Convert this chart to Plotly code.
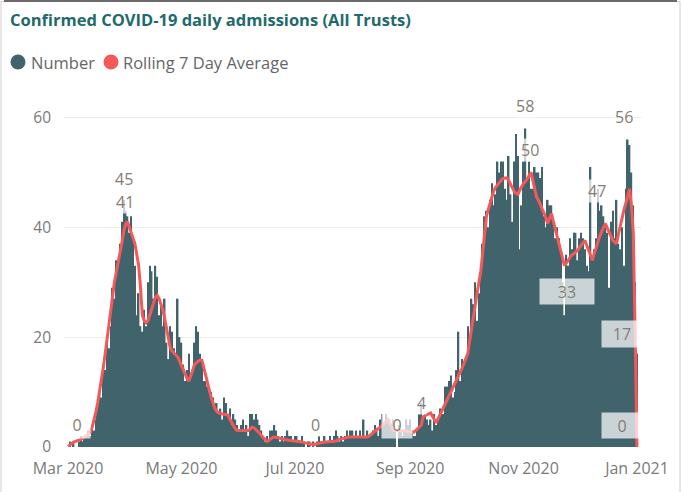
import pandas as pd
import plotly.graph_objects as go

# ---- data -------------------------------------------------------------
start_date = "2020-03-01"

# Confirmed admissions per day (Mar 2020 .. 1 Jan 2021)
number_mar = [0, 1, 0, 1, 0, 0, 1, 2, 1, 2, 2, 3, 2, 4, 3, 5, 8, 10, 9, 15,
              14, 20, 18, 22, 29, 27, 34, 33, 37, 41, 45]
number_apr = [43, 42, 39, 42, 38, 33, 24, 28, 22, 21, 25, 22, 30, 33, 32, 27,
              33, 31, 24, 26, 22, 27, 19, 16, 22, 21, 18, 17, 27, 20]
number_may = [19, 15, 12, 14, 17, 13, 14, 19, 22, 21, 17, 16, 12, 12, 11, 10,
              10, 9, 7, 8, 6, 7, 5, 9, 8, 6, 7, 4, 6, 5, 4]
number_jun = [3, 4, 5, 3, 4, 2, 6, 6, 5, 6, 5, 4, 3, 2, 1, 2, 1, 3, 3, 4,
              3, 2, 1, 2, 1, 2, 3, 2, 2, 1]
number_jul = [2, 2, 1, 1, 2, 1, 0, 1, 1, 0, 1, 0, 1, 2, 1, 1, 2, 1, 1, 2,
              1, 2, 3, 2, 1, 2, 1, 2, 3, 2, 3]
number_aug = [3, 2, 3, 2, 3, 2, 5, 2, 3, 2, 2, 3, 4, 3, 2, 5, 6, 4, 6, 5,
              5, 4, 5, 3, 0, 4, 3, 2, 3, 5, 4]
number_sep = [5, 3, 2, 2, 3, 6, 8, 5, 6, 5, 4, 5, 3, 6, 4, 5, 7, 6, 6, 11,
              11, 12, 13, 9, 10, 14, 21, 12, 16, 15]
number_oct = [16, 22, 18, 27, 26, 30, 23, 28, 33, 37, 42, 43, 40, 45, 48, 44,
              46, 52, 50, 52, 52, 47, 45, 53, 46, 41, 52, 57, 53, 36, 44]
number_nov = [52, 58, 49, 52, 47, 47, 51, 50, 50, 49, 51, 42, 40, 45, 44, 44,
              41, 38, 40, 38, 36, 30, 24, 35, 33, 38, 36, 39, 39, 34]
number_dec = [38, 39, 38, 36, 33, 32, 51, 34, 36, 38, 47, 43, 44, 42, 40, 39,
              29, 41, 43, 38, 45, 37, 36, 40, 33, 47, 56, 55, 50, 44, 30]
number_jan = [17]

# Rolling 7 day average, same days
avg_values = [
    0.1, 0.3, 0.6, 0.9, 1.0, 1.1, 1.3, 1.4, 1.6, 1.9,
    2.1, 2.3, 2.6, 3.6, 4.9, 6.4, 8.1, 10.0, 12.3, 14.5,
    17.0, 19.6, 22.4, 25.3, 28.0, 30.1, 31.9, 33.6, 35.0, 37.2,
    39.3, 40.6, 41.0, 40.1, 39.0, 38.0, 37.0, 35.0, 33.0, 29.0,
    24.0, 23.0, 22.6, 23.0, 24.0, 25.2, 26.4, 27.3, 27.6, 27.0,
    26.0, 25.0, 23.4, 21.5, 19.6, 18.0, 17.5, 17.0, 16.7, 16.4,
    15.6, 14.8, 14.0, 13.2, 12.5, 12.0, 12.8, 13.9, 15.0, 15.4,
    15.6, 15.8, 15.8, 14.5, 13.0, 11.6, 10.2, 9.0, 8.0, 7.0,
    6.5, 6.2, 6.1, 6.0, 6.0, 5.9, 5.8, 5.1, 4.4, 3.8,
    3.3, 3.0, 3.0, 3.0, 3.0, 3.0, 3.0, 3.0, 3.3, 3.6,
    3.5, 3.2, 2.8, 2.5, 2.1, 1.7, 1.3, 1.0, 1.2, 1.5,
    1.7, 1.8, 1.8, 1.7, 1.6, 1.5, 1.4, 1.3, 1.3, 1.2,
    1.2, 1.1, 1.1, 1.0, 1.0, 1.0, 0.9, 0.8, 0.7, 0.6,
    0.5, 0.5, 0.4, 0.5, 0.6, 0.7, 0.8, 0.8, 0.9, 0.9,
    1.0, 1.0, 1.0, 1.0, 1.1, 1.3, 1.4, 1.5, 1.6, 1.7,
    1.8, 1.8, 1.8, 1.8, 1.8, 1.8, 1.8, 1.8, 1.8, 1.8,
    1.8, 1.8, 2.0, 2.3, 2.5, 2.8, 3.1, 3.4, 3.6, 4.0,
    4.4, 4.7, 5.0, 4.3, 3.6, 3.0, 3.0, 3.0, 3.0, 3.0,
    3.0, 2.9, 2.9, 2.8, 2.8, 2.7, 2.7, 3.0, 3.4, 3.7,
    4.0, 5.5, 5.7, 5.9, 6.0, 6.2, 5.6, 5.0, 4.4, 5.1,
    5.8, 6.5, 7.2, 7.8, 8.5, 9.2, 9.9, 10.6, 11.3, 12.0,
    12.7, 13.5, 14.4, 15.3, 16.2, 17.0, 19.3, 21.7, 24.0, 26.0,
    28.0, 30.0, 32.0, 35.3, 38.7, 42.0, 43.2, 44.4, 45.5, 46.7,
    47.3, 47.8, 48.2, 48.6, 48.9, 49.0, 49.0, 48.5, 47.8, 47.0,
    46.5, 46.2, 46.0, 46.8, 47.5, 48.0, 48.4, 48.8, 49.5, 50.0,
    48.5, 47.0, 45.5, 44.9, 44.2, 43.6, 42.6, 41.7, 40.7, 41.6,
    42.5, 41.1, 39.7, 38.4, 37.0, 35.8, 34.6, 33.0, 33.5, 34.0,
    34.5, 35.0, 35.2, 35.5, 35.8, 36.3, 36.7, 37.2, 37.6, 36.7,
    35.8, 34.9, 34.0, 35.2, 36.4, 37.6, 38.4, 39.2, 40.0, 40.7,
    39.9, 39.1, 38.4, 37.6, 37.3, 37.0, 38.7, 40.3, 42.0, 43.2,
    44.4, 45.6, 47.0, 44.0, 39.0, 21.0, 0.0,
]

# Day indices (from 1 Mar 2020) that carry a value label
number_label_days = [5, 30, 133, 177, 246, 285, 301, 306]
avg_label_days = [32, 190, 249, 267, 306]

tick_dates = ["2020-03-01", "2020-05-01", "2020-07-01", "2020-09-01",
              "2020-11-01", "2021-01-01"]
tick_labels = ["Mar 2020", "May 2020", "Jul 2020", "Sep 2020", "Nov 2020",
               "Jan 2021"]
y_ticks = [0, 20, 40, 60]

title_text = "Confirmed COVID-19 daily admissions (All Trusts)"
series_names = ["Number", "Rolling 7 Day Average"]

# ---- assembly -----------------------------------------------------------
numbers = (number_mar + number_apr + number_may + number_jun + number_jul +
           number_aug + number_sep + number_oct + number_nov + number_dec +
           number_jan)
dates = pd.date_range(start_date, periods=len(numbers), freq="D")

W, H = 682, 492
L, R, T, B = 64, 41, 90, 45
PW, PH = W - L - R, H - T - B

BAR = "#41636c"
RED = "#f4595a"
GREY = "#7a7a7a"
LABEL = "#857d75"
FONT = "Open Sans, Noto Sans, sans-serif"


def px_x(p):
    return (p - L) / PW


def px_y(p):
    return (H - B - p) / PH


fig = go.Figure()
fig.add_trace(go.Bar(x=dates, y=numbers, name=series_names[0],
                     marker=dict(color=BAR, line=dict(width=0)),
                     showlegend=False))
fig.add_trace(go.Scatter(x=dates[:len(avg_values)], y=avg_values,
                         name=series_names[1], mode="lines",
                         line=dict(color=RED, width=3), showlegend=False))

annotations = []


def value_label(day, value, dx=0, dy=21, width=None, height=22):
    annotations.append(dict(
        x=dates[day], y=value, xref="x", yref="y",
        text=f"{value:.0f}", showarrow=False,
        xshift=dx, yshift=dy, xanchor="center", yanchor="middle",
        font=dict(family=FONT, size=16, color=LABEL),
        bgcolor="rgba(255,255,255,0.72)",
        width=width, height=height, borderpad=0,
    ))


label_offsets = {
    ("n", 5): (0, 22), ("n", 30): (0, 21), ("n", 133): (0, 22),
    ("n", 177): (0, 22), ("n", 246): (0, 22), ("n", 285): (-1, -2),
    ("n", 301): (-4, 22), ("n", 306): (-15, 20),
    ("a", 32): (-3, 20), ("a", 190): (0, 22), ("a", 249): (-1, 22),
    ("a", 267): (3, -26), ("a", 306): (-15, 22),
}
boxed = {("n", 306): 40, ("a", 306): 40, ("a", 267): 54,
         ("n", 177): 30, ("n", 5): 26}

for d in number_label_days:
    dx, dy = label_offsets[("n", d)]
    w = boxed.get(("n", d))
    value_label(d, numbers[d], dx, dy, width=w, height=26 if w else 22)
for d in avg_label_days:
    dx, dy = label_offsets[("a", d)]
    w = boxed.get(("a", d))
    value_label(d, avg_values[d], dx, dy, width=w, height=25 if w else 22)

# legend drawn as coloured dots with captions
legend_items = [(18, BAR, 29, series_names[0]), (111, RED, 121, series_names[1])]
shapes = []
for cx, col, tx, name in legend_items:
    shapes.append(dict(type="circle", xref="paper", yref="paper",
                       xsizemode="pixel", ysizemode="pixel",
                       xanchor=px_x(cx), yanchor=px_y(62),
                       x0=-7.5, x1=7.5, y0=-7.5, y1=7.5,
                       fillcolor=col, line=dict(width=0)))
    annotations.append(dict(x=px_x(tx), y=px_y(62), xref="paper", yref="paper",
                            text=name, showarrow=False, xanchor="left",
                            yanchor="middle",
                            font=dict(family=FONT, size=16.5, color="#666666")))

# card frame
shapes.append(dict(type="rect", xref="paper", yref="paper",
                   x0=px_x(1), x1=px_x(680), y0=px_y(520), y1=px_y(1.5),
                   line=dict(color="#cfcfcf", width=1), layer="below"))
shapes.append(dict(type="line", xref="paper", yref="paper",
                   x0=px_x(4), x1=px_x(677), y0=px_y(1), y1=px_y(1),
                   line=dict(color="#6a6a6a", width=2)))

fig.update_layout(
    width=W, height=H,
    margin=dict(l=L, r=R, t=T, b=B, pad=0),
    paper_bgcolor="white", plot_bgcolor="white",
    bargap=0.18,
    title=dict(text=f"<b>{title_text}</b>", x=10 / W, xanchor="left",
               y=1 - 20 / H, yanchor="middle", yref="container",
               font=dict(family=FONT, size=16.5, color="#1f6a6c")),
    font=dict(family=FONT, size=16, color=GREY),
    xaxis=dict(type="date",
               range=["2020-02-27 20:24", "2021-01-03 03:36"],
               tickvals=tick_dates, ticktext=tick_labels,
               showgrid=False, zeroline=False, showline=False, ticks="",
               ticklabelstandoff=10,
               tickfont=dict(family=FONT, size=16, color=GREY)),
    yaxis=dict(range=[0, 65], tickvals=y_ticks, showgrid=True,
               gridcolor="#ebebeb", gridwidth=1, zeroline=False,
               showline=False, ticks="", ticklabelstandoff=12,
               tickfont=dict(family=FONT, size=15.5, color=GREY)),
    annotations=annotations, shapes=shapes,
    showlegend=False,
)

fig.write_html("out.html")
